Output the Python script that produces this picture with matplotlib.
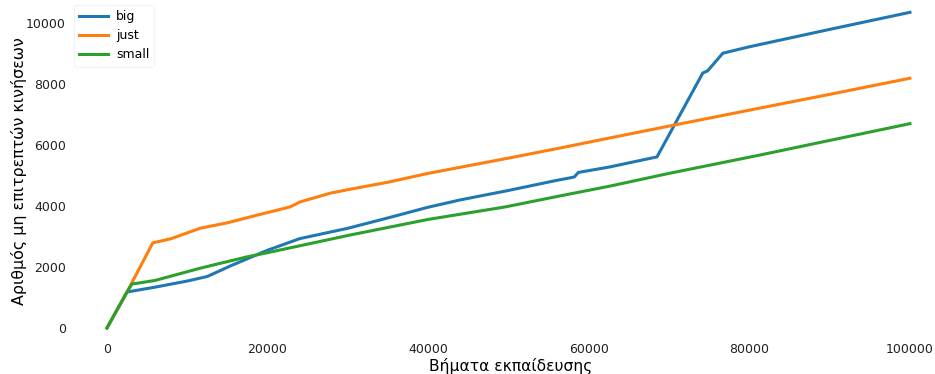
import matplotlib
matplotlib.use("Agg")
import matplotlib.pyplot as plt

# Training progress: number of illegal moves per agent variant
big_steps = [0, 2500, 6000, 10000, 12500, 15500, 20000, 24000, 30000, 35000,
             40000, 44000, 50000, 56000, 58200, 58700, 62600, 68500, 74200,
             74800, 76700, 80000, 90000, 100000]
big_vals = [0, 1180, 1340, 1540, 1690, 2050, 2550, 2930, 3270, 3610,
            3960, 4200, 4510, 4840, 4950, 5100, 5280, 5610, 8360,
            8430, 9010, 9220, 9790, 10350]

just_steps = [0, 2500, 5700, 8000, 11600, 15000, 17800, 22800, 23500, 24000,
              27800, 30300, 35000, 40000, 50000, 56400, 62600, 70000, 81300,
              90000, 100000]
just_vals = [0, 1180, 2790, 2930, 3270, 3450, 3640, 3970, 4060, 4130,
             4420, 4550, 4780, 5070, 5570, 5900, 6230, 6620, 7210,
             7660, 8190]

small_steps = [0, 2500, 3100, 6000, 11600, 17400, 20000, 30300, 40000, 49600,
               56400, 62600, 70000, 81300, 90000, 100000]
small_vals = [0, 1180, 1440, 1560, 1960, 2330, 2470, 3050, 3560, 3970,
              4330, 4650, 5070, 5670, 6150, 6700]

x_ticks = [0, 20000, 40000, 60000, 80000, 100000]
y_ticks = [0, 2000, 4000, 6000, 8000, 10000]

W, H = 935, 374
fig = plt.figure(figsize=(W / 100, H / 100), dpi=100)
ax = fig.add_axes([70 / W, 34 / H, 852 / W, 335 / H])

ax.plot(big_steps, big_vals, color="#1f77b4", lw=2.2, label="big")
ax.plot(just_steps, just_vals, color="#ff7f0e", lw=2.2, label="just")
ax.plot(small_steps, small_vals, color="#2ca02c", lw=2.2, label="small")

ax.set_xlim(-4600, 101500)
ax.set_ylim(-393, 10590)
ax.set_xticks(x_ticks)
ax.set_yticks(y_ticks)
ax.tick_params(axis="both", length=0, labelsize=9, colors="#222222")
ax.tick_params(axis="x", pad=2.5)
ax.tick_params(axis="y", pad=3)
for s in ax.spines.values():
    s.set_visible(False)

ax.set_xlabel("Βήματα εκπαίδευσης", fontsize=11.2)
ax.xaxis.set_label_coords(0.5176, -0.0538)
ax.set_ylabel("Αριθμός μη επιτρεπτών κινήσεων", fontsize=11.4)
ax.yaxis.set_label_coords(-0.0505, 0.504)

leg = ax.legend(loc="upper left", bbox_to_anchor=(74 / W, 1 - 5 / H),
                bbox_transform=fig.transFigure, borderaxespad=0,
                fontsize=9, frameon=True, handlelength=2.3,
                handletextpad=0.65)
leg.get_frame().set_edgecolor("#f0f0f0")
leg.get_frame().set_linewidth(0.8)

fig.savefig("out.png", dpi=100)
